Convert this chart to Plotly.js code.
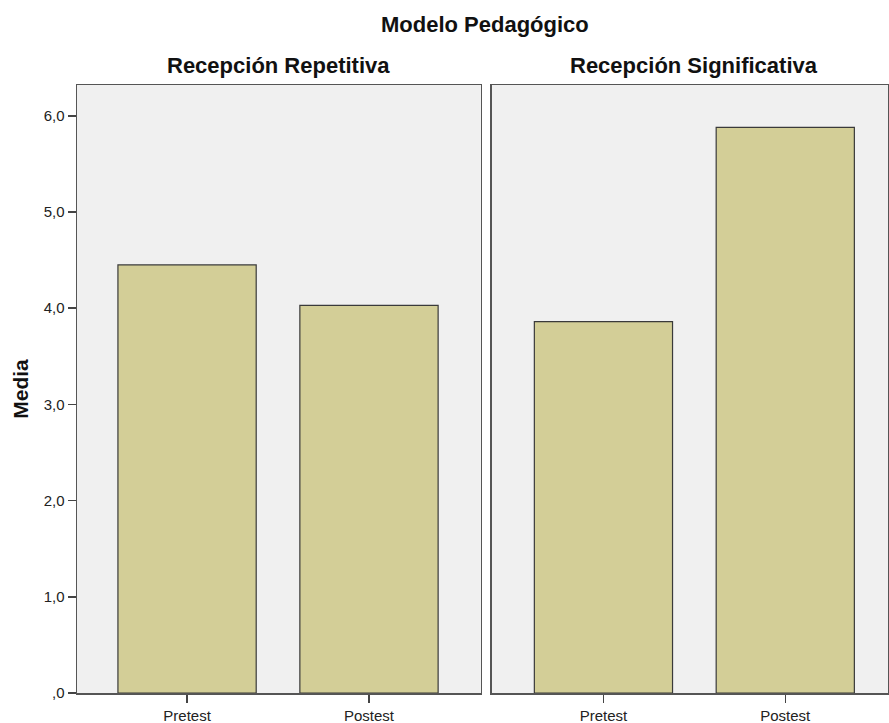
<!DOCTYPE html>
<html>
<head>
<meta charset="utf-8">
<script src="https://cdn.plot.ly/plotly-3.0.1.min.js"></script>
<style>html,body{margin:0;padding:0;background:#fff;}#chart{width:889px;height:723px;}</style>
</head>
<body>
<div id="chart"></div>
<script>
const categories = ["Pretest", "Postest"];
const panels = ["Recepción Repetitiva", "Recepción Significativa"];
const repetitivaValues = [4.45, 4.03];
const significativaValues = [3.86, 5.88];
const yTickValues = [0, 1, 2, 3, 4, 5, 6];
const yTickLabels = [",0", "1,0", "2,0", "3,0", "4,0", "5,0", "6,0"];
const mainTitle = "Modelo Pedagógico";
const yTitle = "Media";

const barStyle = {color: "#D3CE97", line: {color: "#3a3a3a", width: 1.2}};
const traces = [
  {type: "bar", x: categories, y: repetitivaValues, xaxis: "x", yaxis: "y", marker: barStyle, width: 0.76, hoverinfo: "y"},
  {type: "bar", x: categories, y: significativaValues, xaxis: "x2", yaxis: "y2", marker: barStyle, width: 0.76, hoverinfo: "y"}
];
const fam = "Liberation Sans, Arial, sans-serif";
const xCommon = {
  type: "category", range: [-0.605, 1.615], showline: true, mirror: true, linecolor: "#555", linewidth: 1.5,
  ticks: "outside", ticklen: 8, tickcolor: "#444", tickwidth: 1.5, showgrid: false, zeroline: false,
  tickfont: {family: fam, size: 15, color: "#222"}, fixedrange: true
};
const yCommon = {
  range: [0, 6.32], showline: true, mirror: true, linecolor: "#555", linewidth: 1.5,
  showgrid: false, zeroline: false, fixedrange: true
};
const layout = {
  width: 889, height: 723,
  margin: {l: 77, r: 1, t: 85, b: 30},
  paper_bgcolor: "#ffffff", plot_bgcolor: "#F0F0F0",
  font: {family: fam, size: 15, color: "#222"}, showlegend: false, bargap: 0,
  xaxis: Object.assign({}, xCommon, {domain: [0, 0.498], anchor: "y"}),
  xaxis2: Object.assign({}, xCommon, {domain: [0.5117, 1], anchor: "y2", range: [-0.613, 1.565]}),
  yaxis: Object.assign({}, yCommon, {
    domain: [0, 1], anchor: "x", tickvals: yTickValues, ticktext: yTickLabels,
    ticks: "outside", ticklen: 8, tickcolor: "#444", tickwidth: 1.5,
    tickfont: {family: fam, size: 15, color: "#222"},
    title: {text: yTitle, font: {family: fam, size: 21, color: "#111", weight: "bold"}, standoff: 9}
  }),
  yaxis2: Object.assign({}, yCommon, {domain: [0, 1], anchor: "x2", showticklabels: false, ticks: ""}),
  annotations: [
    {text: "<b>" + mainTitle + "</b>", xref: "paper", yref: "paper", x: 0.503, y: 1, yshift: 60.5, xanchor: "center", yanchor: "middle", showarrow: false, font: {family: fam, size: 22, color: "#111"}},
    {text: "<b>" + panels[0] + "</b>", xref: "x domain", yref: "paper", x: 0.5, y: 1, yshift: 19.5, xanchor: "center", yanchor: "middle", showarrow: false, font: {family: fam, size: 22, color: "#111"}},
    {text: "<b>" + panels[1] + "</b>", xref: "x2 domain", yref: "paper", x: 0.51, y: 1, yshift: 19.5, xanchor: "center", yanchor: "middle", showarrow: false, font: {family: fam, size: 22, color: "#111"}}
  ]
};
Plotly.newPlot("chart", traces, layout, {displayModeBar: false, staticPlot: true});
</script>
</body>
</html>
